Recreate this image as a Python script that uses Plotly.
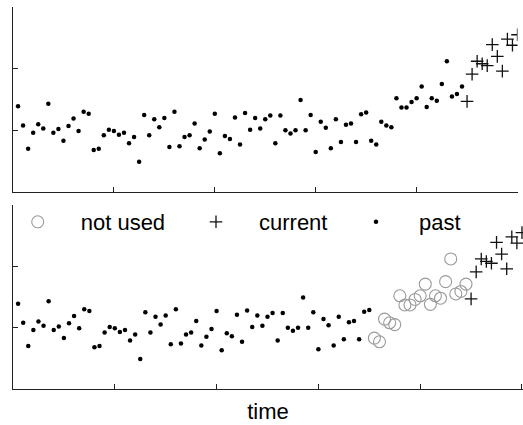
import plotly.graph_objects as go

# time index of each observation
time = list(range(1, 101))
# observed values (y axis spans 0..3)
values = [1.39, 1.08, 0.70, 0.96, 1.10, 1.03, 1.43, 0.96, 1.02, 0.83,
          1.07, 1.19, 0.99, 1.30, 1.27, 0.68, 0.70, 0.92, 1.01, 0.99,
          0.93, 0.96, 0.79, 0.89, 0.49, 1.25, 0.92, 1.18, 1.05, 1.20,
          0.73, 1.30, 0.74, 0.89, 0.92, 1.11, 0.71, 0.85, 0.98, 1.27,
          0.63, 0.91, 0.86, 1.21, 0.77, 1.28, 1.01, 1.20, 1.03, 1.18,
          1.24, 0.79, 1.24, 1.00, 0.95, 1.00, 1.49, 1.00, 1.25, 0.65,
          1.14, 1.04, 0.71, 1.18, 0.81, 1.09, 1.11, 0.81, 1.26, 1.29,
          0.83, 0.77, 1.14, 1.08, 1.05, 1.52, 1.37, 1.37, 1.46, 1.52,
          1.71, 1.38, 1.52, 1.48, 1.75, 2.12, 1.55, 1.59, 1.71, 1.47,
          1.91, 2.12, 2.08, 2.05, 2.39, 2.20, 1.96, 2.48, 2.38, 2.55]

current_start = 90   # first "current" time
unused_start = 71    # first "not used" time (bottom panel)

x_ticks = [0, 20, 40, 60, 80, 100]
y_ticks = [0, 1, 2, 3]

FONT = "Liberation Sans, Arial, sans-serif"

def sel(lo, hi):
    xs = [t for t in time if lo <= t <= hi]
    ys = [values[t - 1] for t in xs]
    return xs, ys

fig = go.Figure()

dot = dict(symbol="circle", size=4.5, color="black")
plus = dict(symbol="cross-thin-open", size=9, color="#111",
            line=dict(color="#111", width=1.3))
ring = dict(symbol="circle-open", size=12, color="#9a9a9a",
            line=dict(color="#9a9a9a", width=1.1))

# top panel
px_, py_ = sel(1, current_start - 1)
cx_, cy_ = sel(current_start, 100)
fig.add_trace(go.Scatter(x=px_, y=py_, mode="markers", marker=dot,
                         showlegend=False, xaxis="x", yaxis="y"))
fig.add_trace(go.Scatter(x=cx_, y=cy_, mode="markers", marker=plus,
                         showlegend=False, xaxis="x", yaxis="y"))

# bottom panel
ux_, uy_ = sel(unused_start, current_start - 1)
bx_, by_ = sel(1, unused_start - 1)
fig.add_trace(go.Scatter(x=ux_, y=uy_, mode="markers", marker=ring,
                         name="not used", legend="legend",
                         xaxis="x2", yaxis="y2"))
fig.add_trace(go.Scatter(x=cx_, y=cy_, mode="markers", marker=plus,
                         name="current", legend="legend2",
                         xaxis="x2", yaxis="y2"))
fig.add_trace(go.Scatter(x=bx_, y=by_, mode="markers", marker=dot,
                         name="past", legend="legend3",
                         xaxis="x2", yaxis="y2"))

W, H = 523, 425
ml, mr, mt, mb = 13, 0, 7, 36
ph = H - mt - mb
pw = W - ml - mr

def ydom(top_px, bot_px):
    return [(H - mb - bot_px) / ph, (H - mb - top_px) / ph]

axis_common = dict(showline=True, linecolor="#222", linewidth=1.3,
                   ticks="inside", ticklen=5, tickwidth=1.2, tickcolor="#222",
                   showticklabels=False, showgrid=False, zeroline=False)

def leg(start_px):
    return dict(orientation="h", x=(start_px - ml) / pw, xanchor="left",
                y=(H - mb - 222) / ph, yanchor="middle",
                itemwidth=76, bgcolor="rgba(0,0,0,0)",
                font=dict(size=22, family=FONT, color="black"))

fig.update_layout(
    width=W, height=H,
    margin=dict(l=ml, r=mr, t=mt, b=mb, autoexpand=False),
    paper_bgcolor="white", plot_bgcolor="white",
    font=dict(family=FONT, size=22, color="black"),
    xaxis=dict(domain=[0, 504.5 / 510], range=[0, 100], tickvals=x_ticks,
               anchor="y", **axis_common),
    yaxis=dict(domain=ydom(7, 192), range=[0, 3], tickvals=y_ticks,
               anchor="x", **axis_common),
    xaxis2=dict(domain=[0, 1], range=[0, 100.2], tickvals=x_ticks,
                anchor="y2", title=dict(text="time", standoff=14,
                                        font=dict(size=22, family=FONT)),
                **axis_common),
    yaxis2=dict(domain=ydom(205, 389), range=[0, 3], tickvals=y_ticks,
                anchor="x2", **axis_common),
    legend=leg(-5.3),
    legend2=leg(173),
    legend3=leg(333),
)

fig.write_html("out.html")
